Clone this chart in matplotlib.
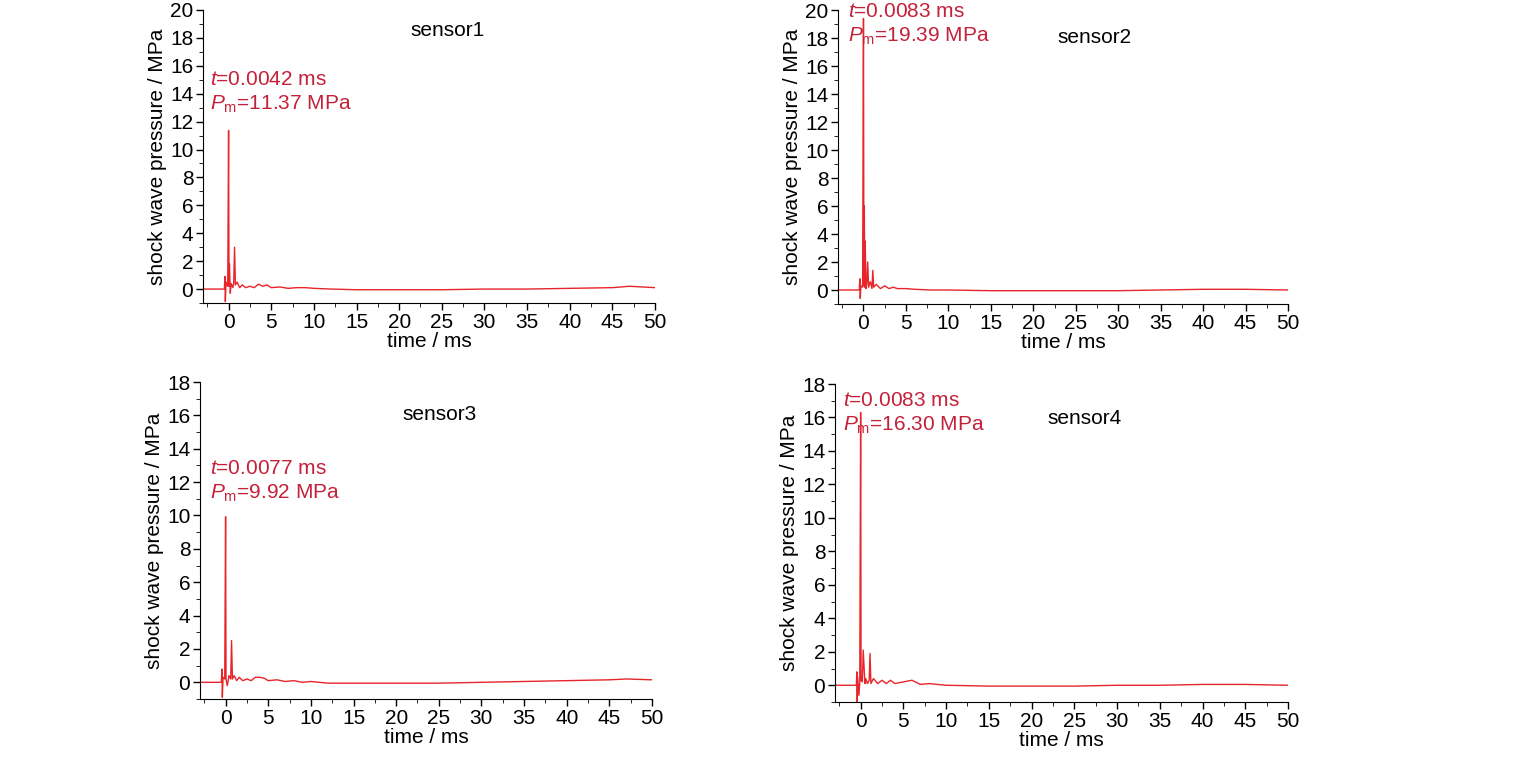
import matplotlib
matplotlib.use("Agg")
import matplotlib.pyplot as plt
from matplotlib.ticker import MultipleLocator

plt.rcParams['font.family'] = ['Liberation Sans', 'DejaVu Sans']
plt.rcParams['mathtext.fontset'] = 'custom'
plt.rcParams['mathtext.it'] = 'Liberation Sans:italic'
plt.rcParams['mathtext.rm'] = 'Liberation Sans'

t1 = [-3.0, -0.5, -0.42, -0.38, -0.3, -0.1, 0.0, 0.05, 0.1, 0.2, 0.3, 0.5, 0.6, 0.7, 0.8, 1.0, 1.3, 1.6, 2.0, 2.5, 3.0,
      3.5, 4.0, 4.5, 5.0, 6.0, 7.0, 8.0, 9.0, 10.0, 12.0, 15.0, 20.0, 25.0, 30.0, 35.0, 40.0, 45.0, 47.0, 50.0]
p1 = [0.0, 0.0, 0.9, -0.9, 0.5, 0.2, 11.37, 0.2, 1.8, -0.3, 0.4, 0.1, 0.4, 3.0, 0.3, 0.5, 0.1, 0.3, 0.1, 0.2, 0.1,
      0.35, 0.2, 0.3, 0.1, 0.15, 0.05, 0.1, 0.1, 0.05, 0.0, -0.05, -0.05, -0.05, 0.0, 0.0, 0.05, 0.1, 0.2, 0.1]

t2 = [-3.0, -0.5, -0.42, -0.38, -0.3, -0.1, 0.0, 0.05, 0.1, 0.15, 0.2, 0.3, 0.4, 0.5, 0.6, 0.8, 1.0, 1.1, 1.2, 1.5,
      2.0, 2.5, 3.0, 3.5, 4.0, 5.0, 6.0, 8.0, 10.0, 15.0, 20.0, 25.0, 30.0, 35.0, 40.0, 45.0, 50.0]
p2 = [0.0, 0.0, 0.8, -0.6, 0.3, 0.2, 19.39, 0.3, 6.0, 0.2, 3.5, 0.1, 0.5, 2.0, 0.2, 0.6, 0.1, 1.4, 0.2, 0.4,
      0.1, 0.3, 0.1, 0.2, 0.1, 0.1, 0.05, 0.0, 0.0, -0.05, -0.05, -0.05, -0.05, 0.0, 0.05, 0.05, 0.0]

t3 = [-3.0, -0.5, -0.42, -0.38, -0.3, -0.1, 0.0, 0.05, 0.2, 0.4, 0.6, 0.7, 0.8, 1.0, 1.3, 1.6, 2.0, 2.5, 3.0, 3.5,
      4.0, 4.5, 5.0, 6.0, 7.0, 8.0, 9.0, 10.0, 12.0, 15.0, 20.0, 25.0, 30.0, 35.0, 40.0, 45.0, 47.0, 50.0]
p3 = [0.0, 0.0, 0.8, -0.9, 0.3, 0.2, 9.92, 0.2, -0.2, 0.4, 0.2, 2.5, 0.2, 0.4, 0.1, 0.3, 0.1, 0.2, 0.1, 0.3,
      0.3, 0.25, 0.1, 0.15, 0.05, 0.1, 0.0, 0.05, -0.05, -0.05, -0.05, -0.05, 0.0, 0.05, 0.1, 0.15, 0.2, 0.15]

t4 = [-3.0, -0.5, -0.45, -0.4, -0.35, -0.2, -0.1, 0.0, 0.05, 0.2, 0.3, 0.5, 0.6, 0.8, 1.0, 1.1, 1.2, 1.5, 2.0,
      2.5, 3.0, 3.5, 4.0, 5.0, 6.0, 7.0, 8.0, 10.0, 15.0, 20.0, 25.0, 30.0, 35.0, 40.0, 45.0, 50.0]
p4 = [0.0, 0.0, 0.8, -1.0, 0.5, -0.6, 0.2, 16.30, 0.3, 0.2, 2.1, 0.1, 0.4, 0.1, 0.3, 1.9, 0.1, 0.4, 0.1,
      0.3, 0.1, 0.3, 0.1, 0.2, 0.3, 0.05, 0.1, 0.0, -0.05, -0.05, -0.05, 0.0, 0.0, 0.05, 0.05, 0.0]

panels = [
    ("sensor1", t1, p1, 20, "0.0042", "11.37"),
    ("sensor2", t2, p2, 20, "0.0083", "19.39"),
    ("sensor3", t3, p3, 18, "0.0077", "9.92"),
    ("sensor4", t4, p4, 18, "0.0083", "16.30"),
]
# axes boxes in pixels (left, bottom y, right, top y) for a 1516x762 canvas
boxes = [(203, 303, 655, 10), (838, 304, 1288, 10), (200, 699, 652, 382), (835, 702, 1288, 384)]
# annotation anchor (x, y) in data coords, title position in axes coords
ann = [(-2.2, 15.7), (-1.8, 20.6), (-1.8, 13.4), (-2.1, 17.6)]
tpos = [(0.54, 0.93), (0.57, 0.905), (0.53, 0.896), (0.55, 0.89)]

W, H = 1516, 762
red = '#e8252a'
tred = '#c4213a'
fig = plt.figure(figsize=(W / 100, H / 100), dpi=100)

for (name, t, p, ymax, tm, pm), (l, b, r, tp), (ax_x, ax_y), (tx, ty) in zip(panels, boxes, ann, tpos):
    ax = fig.add_axes([l / W, 1 - b / H, (r - l) / W, (b - tp) / H])
    ax.plot(t, p, color=red, lw=1.0)
    ax.set_xlim(-3, 50)
    ax.set_ylim(-1, ymax)
    ax.xaxis.set_minor_locator(MultipleLocator(2.5))
    ax.yaxis.set_minor_locator(MultipleLocator(1))
    ax.set_xticks(range(0, 51, 5))
    ax.set_yticks(range(0, ymax + 1, 2))
    for s in ['top', 'right']:
        ax.spines[s].set_visible(False)
    ax.tick_params(labelsize=15, length=5, width=1, pad=2)
    ax.tick_params(which='minor', length=3)
    ax.set_xlabel("time / ms", fontsize=15, labelpad=0)
    ax.set_ylabel("shock wave pressure / MPa", fontsize=15, labelpad=2)
    ax.text(tx, ty, name, transform=ax.transAxes, fontsize=15, ha='center', va='center')
    ax.text(ax_x, ax_y, f"$t$=%s ms\n$P_{{\\rm m}}$=%s MPa" % (tm, pm), color=tred,
            fontsize=15, va='top', ha='left', linespacing=1.3)

fig.savefig("out.png", dpi=100)
